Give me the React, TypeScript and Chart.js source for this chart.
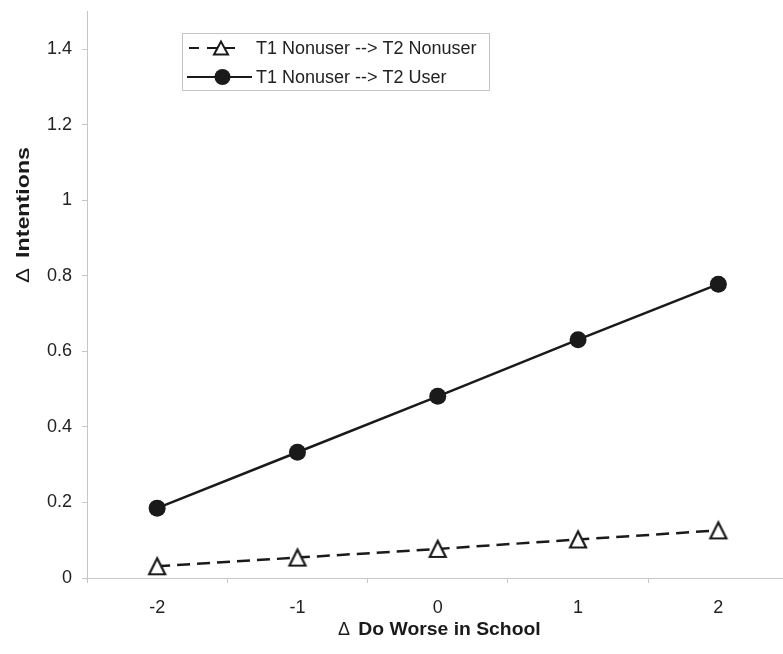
import React, { useEffect, useRef } from 'react';
import { Chart, registerables } from 'chart.js';

Chart.register(...registerables);

const categories = ['-2', '-1', '0', '1', '2'];
const nonuserValues = [0.031, 0.054, 0.077, 0.102, 0.126];
const userValues = [0.185, 0.333, 0.481, 0.631, 0.778];
const yTickValues = [0, 0.2, 0.4, 0.6, 0.8, 1, 1.2, 1.4];
const seriesLabels = ['T1 Nonuser --> T2 Nonuser', 'T1 Nonuser --> T2 User'];
const deltaSymbol = '\u0394';
const xTitleText = 'Do Worse in School';
const yTitleText = 'Intentions';

const FONT = 'Liberation Sans, Arial, sans-serif';
const INK = '#1a1a1a';
const AXIS_GRAY = '#c6c6c6';
const TEXT = '#222222';

function drawTriangle(ctx: CanvasRenderingContext2D, cx: number, cy: number, w: number, h: number, lw: number) {
  ctx.save();
  ctx.beginPath();
  ctx.moveTo(cx, cy - h / 2);
  ctx.lineTo(cx - w / 2, cy + h / 2);
  ctx.lineTo(cx + w / 2, cy + h / 2);
  ctx.closePath();
  ctx.fillStyle = '#ffffff';
  ctx.fill();
  ctx.lineWidth = lw;
  ctx.strokeStyle = INK;
  ctx.lineJoin = 'miter';
  ctx.setLineDash([]);
  ctx.stroke();
  ctx.restore();
}

function makeTriangleCanvas(): HTMLCanvasElement {
  const c = document.createElement('canvas');
  c.width = 26;
  c.height = 26;
  const ctx = c.getContext('2d')!;
  drawTriangle(ctx, 13, 13, 16, 16, 2.2);
  return c;
}

const overlayPlugin = {
  id: 'overlayText',
  afterDraw(chart: any) {
    const ctx: CanvasRenderingContext2D = chart.ctx;
    ctx.save();

    // Legend box
    ctx.strokeStyle = '#c4c4c4';
    ctx.lineWidth = 1;
    ctx.setLineDash([]);
    ctx.strokeRect(182.5, 33.5, 307, 57);

    // Row 1: dashed line with triangle
    const r1 = 48;
    ctx.beginPath();
    ctx.strokeStyle = INK;
    ctx.lineWidth = 2.2;
    ctx.setLineDash([10, 8]);
    ctx.moveTo(189, r1);
    ctx.lineTo(237, r1);
    ctx.stroke();
    ctx.setLineDash([]);
    drawTriangle(ctx, 221, r1, 14, 13, 2);

    // Row 2: solid line with circle
    const r2 = 77;
    ctx.beginPath();
    ctx.strokeStyle = INK;
    ctx.lineWidth = 2.2;
    ctx.moveTo(187, r2);
    ctx.lineTo(252, r2);
    ctx.stroke();
    ctx.beginPath();
    ctx.fillStyle = INK;
    ctx.arc(222.5, r2, 8, 0, Math.PI * 2);
    ctx.fill();

    ctx.fillStyle = TEXT;
    ctx.font = `18px ${FONT}`;
    ctx.textBaseline = 'middle';
    ctx.textAlign = 'left';
    ctx.fillText(seriesLabels[0], 256, r1 + 1);
    ctx.fillText(seriesLabels[1], 256, r2 + 1);

    // X axis title
    ctx.textBaseline = 'alphabetic';
    ctx.fillStyle = INK;
    ctx.font = `18px ${FONT}`;
    ctx.fillText(deltaSymbol, 338, 635);
    ctx.font = `bold 19px ${FONT}`;
    const xw = ctx.measureText(xTitleText).width;
    ctx.save();
    ctx.translate(358.3, 635);
    ctx.scale(182.4 / xw, 1);
    ctx.fillText(xTitleText, 0, 0);
    ctx.restore();

    // Y axis title (rotated)
    ctx.save();
    ctx.translate(28.5, 283);
    ctx.rotate(-Math.PI / 2);
    ctx.font = `18px ${FONT}`;
    const dw = ctx.measureText(deltaSymbol).width;
    ctx.save();
    ctx.scale(15 / dw, 1);
    ctx.fillText(deltaSymbol, 0, 0);
    ctx.restore();
    ctx.font = `bold 19px ${FONT}`;
    const yw = ctx.measureText(yTitleText).width;
    ctx.translate(25, 0);
    ctx.scale(111 / yw, 1);
    ctx.fillText(yTitleText, 0, 0);
    ctx.restore();

    ctx.restore();
  },
};

export default function App() {
  const ref = useRef<HTMLCanvasElement>(null);

  useEffect(() => {
    const tri = makeTriangleCanvas();
    const chart = new Chart(ref.current!, {
      type: 'line',
      data: {
        labels: categories,
        datasets: [
          {
            label: seriesLabels[0],
            data: nonuserValues,
            borderColor: INK,
            borderWidth: 2.5,
            borderDash: [13, 7],
            pointStyle: tri as any,
            pointRadius: 9,
            pointBackgroundColor: '#ffffff',
            pointBorderColor: INK,
            tension: 0,
          },
          {
            label: seriesLabels[1],
            data: userValues,
            borderColor: INK,
            borderWidth: 2.5,
            pointStyle: 'circle',
            pointRadius: 8.5,
            pointBackgroundColor: INK,
            pointBorderColor: INK,
            pointBorderWidth: 0,
            tension: 0,
          },
        ],
      },
      options: {
        responsive: false,
        animation: false,
        devicePixelRatio: 1,
        layout: { padding: { top: 9, right: 6, left: 0, bottom: 0 } },
        plugins: {
          legend: { display: false },
          tooltip: { enabled: false },
        },
        scales: {
          x: {
            type: 'category',
            offset: true,
            grid: {
              offset: true,
              drawOnChartArea: false,
              drawTicks: true,
              tickLength: 5,
              color: AXIS_GRAY,
            },
            border: { color: AXIS_GRAY, width: 1 },
            ticks: {
              font: { family: FONT, size: 18 },
              color: TEXT,
              padding: 14,
              maxRotation: 0,
            },
            afterFit: (s: any) => {
              s.height = 76;
              s.paddingLeft = 0;
              s.paddingRight = 0;
            },
          },
          y: {
            type: 'linear',
            min: 0,
            max: 1.5,
            grid: {
              drawOnChartArea: false,
              drawTicks: true,
              tickLength: 5,
              color: AXIS_GRAY,
            },
            border: { color: AXIS_GRAY, width: 1 },
            afterBuildTicks: (s: any) => {
              s.ticks = yTickValues.map((v) => ({ value: v }));
            },
            ticks: {
              font: { family: FONT, size: 18 },
              color: TEXT,
              padding: 10,
              callback: (v: any) => String(Math.round(Number(v) * 10) / 10),
            },
            afterFit: (s: any) => {
              s.width = 87;
              s.paddingTop = 0;
              s.paddingBottom = 0;
            },
          },
        },
      },
      plugins: [overlayPlugin],
    });
    return () => chart.destroy();
  }, []);

  return (
    <div
      style={{
        position: 'fixed',
        left: 0,
        top: 0,
        width: 783,
        height: 654,
        overflow: 'hidden',
        background: '#ffffff',
      }}
    >
      <canvas ref={ref} width={800} height={654} style={{ display: 'block', width: 800, height: 654 }} />
    </div>
  );
}
